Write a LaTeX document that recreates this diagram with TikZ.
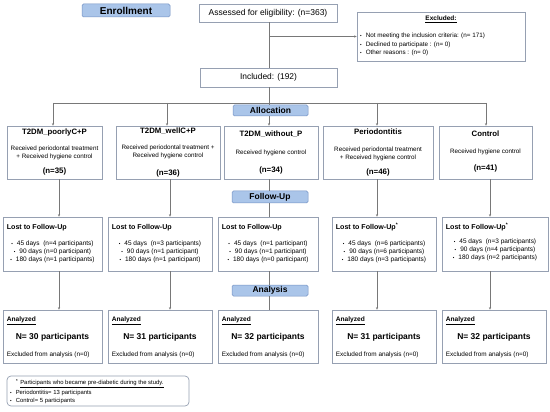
\documentclass[tikz,border=0pt]{standalone}
\usepackage{fontspec}
\setmainfont{Liberation Sans}
\usetikzlibrary{arrows.meta,calc}
\definecolor{boxline}{RGB}{150,160,178}
\definecolor{connc}{RGB}{120,120,120}
\definecolor{lblfill}{RGB}{170,197,233}
\definecolor{lbldraw}{RGB}{115,145,195}
\newcommand{\bul}{{\fontsize{4.5}{4.5}\selectfont\textbullet}\hspace{4pt}}
\tikzset{
  box/.style={draw=boxline, line width=0.7pt, fill=white, inner sep=0pt},
  lbl/.style={draw=lbldraw, fill=lblfill, rounded corners=1.5pt, line width=0.5pt, inner sep=0pt, font=\bfseries\fontsize{8.5}{10}\selectfont},
  conn/.style={draw=connc, line width=0.6pt},
  arr/.style={conn, -{Stealth[length=2.5pt,width=2.2pt]}},
  plain/.style={inner sep=0pt, text=black},
  ttl/.style={plain, font=\bfseries\fontsize{7.8}{9}\selectfont},
  body/.style={plain, font=\fontsize{6.3}{7.6}\selectfont, align=center},
  nn/.style={plain, font=\bfseries\fontsize{7.9}{9}\selectfont},
  lttl/.style={plain, font=\bfseries\fontsize{7.1}{9}\selectfont, anchor=west},
  items/.style={plain, font=\fontsize{6.5}{7.7}\selectfont, align=center},
  big/.style={plain, font=\bfseries\fontsize{8.5}{10}\selectfont},
  small/.style={plain, font=\fontsize{6.4}{7.6}\selectfont},
}
\begin{document}
\begin{tikzpicture}[x=1pt,y=-1pt]
\useasboundingbox (0,0) rectangle (550,412);
\fill[white] (0,0) rectangle (550,412);

% enrollment
\node[lbl, minimum width=88pt, minimum height=13pt, font=\bfseries\fontsize{10}{11}\selectfont] (enr) at (126,10.5) {Enrollment};
\node[box, minimum width=138pt, minimum height=18pt, font=\fontsize{8.5}{10}\selectfont] (assess) at (268,13) {Assessed for eligibility: (n=363)};
\node[box, minimum width=168pt, minimum height=49pt] (excl) at (441,36.5) {};
\node[plain, font=\bfseries\fontsize{6.5}{8}\selectfont] (exclt) at ($(excl.north)+(0,7.5)$) {\underline{Excluded:}};
\node[plain, font=\fontsize{6.3}{8.4}\selectfont, align=left, anchor=west] (excll) at (360,44.5) {\bul Not meeting the inclusion criteria: (n= 171)\\\bul Declined to participate : (n= 0)\\\bul Other reasons : (n= 0)};
\node[box, minimum width=137pt, minimum height=19pt, font=\fontsize{8.4}{10}\selectfont] (incl) at (268.5,77.5) {Included: (192)};

\coordinate (sp) at (269,0);
\draw[conn] (assess.south -| sp) -- (incl.north -| sp);
\draw[arr] (sp |- excl.west) -- (excl.west);

% allocation
\node[lbl, minimum width=75pt, minimum height=11pt] (alloc) at (270.5,110.5) {Allocation};
\coordinate (h1) at (53,103);
\coordinate (h2) at (167,103);
\coordinate (h4) at (377,103);
\coordinate (h5) at (486,103);
\draw[conn] (h1) -- (h5);
\draw[conn] (incl.south -| sp) -- (alloc.north -| sp);

% group boxes
\node[box, minimum width=95pt, minimum height=53pt] (c1) at (54.5,152.5) {};
\node[box, minimum width=104pt, minimum height=53pt] (c2) at (168,152.5) {};
\node[box, minimum width=94pt, minimum height=53pt] (c3) at (271,152.5) {};
\node[box, minimum width=110pt, minimum height=53pt] (c4) at (378,152.5) {};
\node[box, minimum width=93pt, minimum height=53pt] (c5) at (485.5,152.5) {};

\draw[arr] (h1) -- (c1.north -| h1);
\draw[arr] (h2) -- (c2.north -| h2);
\draw[arr] (alloc.south -| sp) -- (c3.north -| sp);
\draw[arr] (h4) -- (c4.north -| h4);
\draw[arr] (h5) -- (c5.north -| h5);

\node[ttl] (c1t) at ($(c1.north)+(0,7)$) {T2DM\_poorlyC+P};
\node[body] (c1b) at ($(c1.north)+(0,27.5)$) {Received periodontal treatment\\+ Received hygiene control};
\node[nn] (c1n) at ($(c1.north)+(0,46)$) {(n=35)};

\node[ttl] (c2t) at ($(c2.north)+(0,6)$) {T2DM\_wellC+P};
\node[body] (c2b) at ($(c2.north)+(0,26)$) {Received periodontal treatment +\\Received hygiene control};
\node[nn] (c2n) at ($(c2.north)+(0,48)$) {(n=36)};

\node[ttl] (c3t) at ($(c3.north)+(0,9)$) {T2DM\_without\_P};
\node[body] (c3b) at ($(c3.north)+(0,27)$) {Received hygiene control};
\node[nn] (c3n) at ($(c3.north)+(0,45)$) {(n=34)};

\node[ttl] (c4t) at ($(c4.north)+(0,6.5)$) {Periodontitis};
\node[body] (c4b) at ($(c4.north)+(0,28)$) {Received periodontal treatment\\+ Received hygiene control};
\node[nn] (c4n) at ($(c4.north)+(0,47)$) {(n=46)};

\node[ttl] (c5t) at ($(c5.north)+(0,8)$) {Control};
\node[body] (c5b) at ($(c5.north)+(0,26)$) {Received hygiene control};
\node[nn] (c5n) at ($(c5.north)+(0,43)$) {(n=41)};

% follow-up
\node[lbl, minimum width=76pt, minimum height=12pt] (fu) at (270,197) {Follow-Up};

\node[box, minimum width=99pt, minimum height=54pt] (l1) at (52.5,244) {};
\node[box, minimum width=104pt, minimum height=54pt] (l2) at (160,244) {};
\node[box, minimum width=100pt, minimum height=54pt] (l3) at (268,244) {};
\node[box, minimum width=104pt, minimum height=54pt] (l4) at (384,244) {};
\node[box, minimum width=106pt, minimum height=54pt] (l5) at (495,244) {};

\coordinate (v1) at (59,0);
\coordinate (v2) at (170,0);
\coordinate (v4) at (377,0);
\coordinate (v5) at (490,0);

\draw[arr] (c1.south -| v1) -- (l1.north -| v1);
\draw[arr] (c2.south -| v2) -- (l2.north -| v2);
\draw[conn] (c3.south -| sp) -- (fu.north -| sp);
\draw[conn] (fu.south -| sp) -- (l3.north -| sp);
\draw[arr] (c4.south -| v4) -- (l4.north -| v4);
\draw[arr] (c5.south -| v5) -- (l5.north -| v5);

\node[lttl] (l1t) at ($(l1.north west)+(4,11)$) {Lost to Follow-Up};
\node[items] (l1i) at ($(l1.north)+(0,35)$) {\bul 45 days\ \ (n=4 participants)\\\bul 90 days (n=0 participant)\\\bul 180 days (n=1 participants)};
\node[lttl] (l2t) at ($(l2.north west)+(4,11)$) {Lost to Follow-Up};
\node[items] (l2i) at ($(l2.north)+(0,35)$) {\bul 45 days\ \ (n=3 participants)\\\bul 90 days (n=1 participant)\\\bul 180 days (n=1 participant)};
\node[lttl] (l3t) at ($(l3.north west)+(4,11)$) {Lost to Follow-Up};
\node[items] (l3i) at ($(l3.north)+(0,35)$) {\bul 45 days\ \ (n=1 participant)\\\bul 90 days (n=1 participant)\\\bul 180 days (n=0 participant)};
\node[lttl] (l4t) at ($(l4.north west)+(4,10)$) {Lost to Follow-Up\textsuperscript{*}};
\node[items] (l4i) at ($(l4.north)+(0,35)$) {\bul 45 days\ \ (n=6 participants)\\\bul 90 days (n=6 participants)\\\bul 180 days (n=3 participants)};
\node[lttl] (l5t) at ($(l5.north west)+(4,10)$) {Lost to Follow-Up\textsuperscript{*}};
\node[items] (l5i) at ($(l5.north)+(0,33)$) {\bul 45 days\ \ (n=3 participants)\\\bul 90 days (n=4 participants)\\\bul 180 days (n=2 participants)};

% analysis
\node[lbl, minimum width=76pt, minimum height=11pt] (an) at (270,290.5) {Analysis};

\node[box, minimum width=99pt, minimum height=53pt] (a1) at (52.5,336.5) {};
\node[box, minimum width=104pt, minimum height=53pt] (a2) at (160,336.5) {};
\node[box, minimum width=100pt, minimum height=53pt] (a3) at (268,336.5) {};
\node[box, minimum width=104pt, minimum height=53pt] (a4) at (384,336.5) {};
\node[box, minimum width=104pt, minimum height=53pt] (a5) at (494,336.5) {};

\draw[arr] (l1.south -| v1) -- (a1.north -| v1);
\draw[arr] (l2.south -| v2) -- (a2.north -| v2);
\draw[conn] (l3.south -| sp) -- (an.north -| sp);
\draw[conn] (an.south -| sp) -- (a3.north -| sp);
\draw[arr] (l4.south -| v4) -- (a4.north -| v4);
\draw[arr] (l5.south -| v5) -- (a5.north -| v5);

\foreach \a/\n in {a1/30,a2/31,a3/32,a4/31,a5/32}{
  \node[plain, anchor=west, font=\bfseries\fontsize{6.6}{8}\selectfont] (\a h) at ($(\a.north west)+(4,11)$) {\underline{Analyzed}};
  \node[big] (\a n) at ($(\a.north)+(0,28)$) {N= \n\ participants};
  \node[small, anchor=west] (\a x) at ($(\a.north west)+(4,45)$) {Excluded from analysis (n=0)};
}

% footnote
\node[draw=boxline, line width=0.7pt, rounded corners=4pt, minimum width=182pt, minimum height=30pt, inner sep=0pt] (fn) at (98,391) {};
\node[plain, anchor=west, align=left, font=\fontsize{5.9}{7.6}\selectfont] (fnt) at (10,391.5) {\hspace*{6pt}\textbf{\textsuperscript{*}}\hspace{2pt}\underline{Participants who became pre-diabetic during the study.}\\[2.2pt]\bul Periodontitis= 13 participants\\\bul Control= 5 participants};
\end{tikzpicture}
\end{document}
